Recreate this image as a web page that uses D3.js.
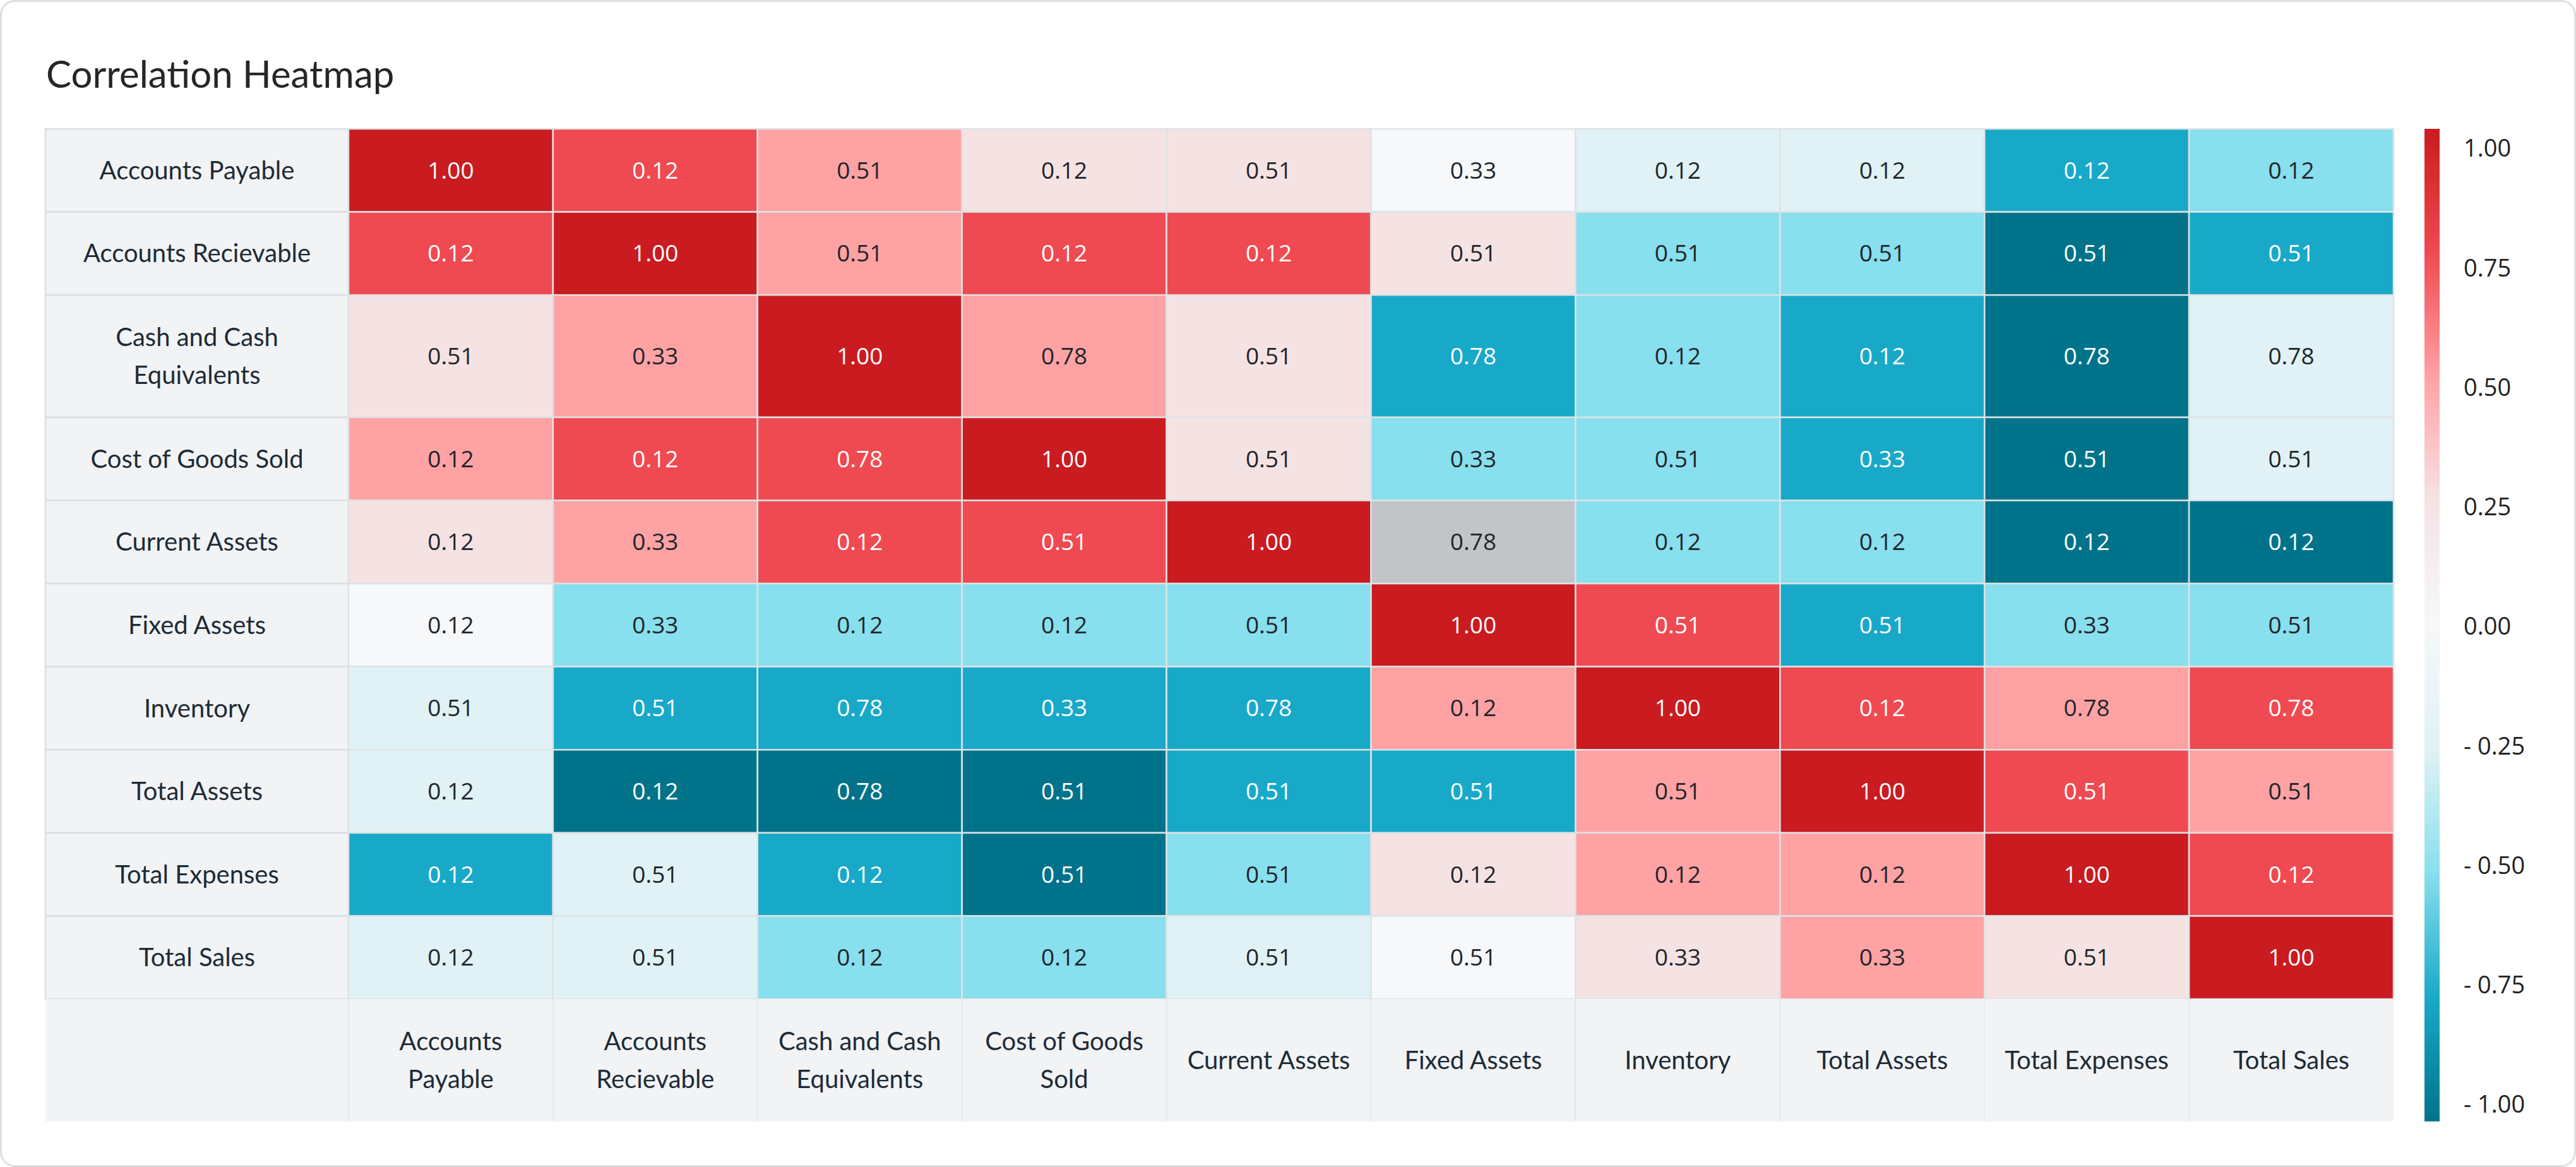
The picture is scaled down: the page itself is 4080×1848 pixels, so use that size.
<!DOCTYPE html>
<html>
<head>
<meta charset="utf-8">
<script src="https://cdn.jsdelivr.net/npm/d3@7"></script>
<style>
  body { margin: 0; background: #fff; }
</style>
</head>
<body>
<div id="chart"></div>
<script>
// Row / column categories (same order both ways)
const rowNames = ["Accounts Payable", "Accounts Recievable", "Cash and Cash Equivalents", "Cost of Goods Sold",
  "Current Assets", "Fixed Assets", "Inventory", "Total Assets", "Total Expenses", "Total Sales"];
const colNames = rowNames;

// how the labels wrap in the picture
const rowLines = [["Accounts Payable"], ["Accounts Recievable"], ["Cash and Cash", "Equivalents"], ["Cost of Goods Sold"],
  ["Current Assets"], ["Fixed Assets"], ["Inventory"], ["Total Assets"], ["Total Expenses"], ["Total Sales"]];
const colLines = [["Accounts", "Payable"], ["Accounts", "Recievable"], ["Cash and Cash", "Equivalents"], ["Cost of Goods", "Sold"],
  ["Current Assets"], ["Fixed Assets"], ["Inventory"], ["Total Assets"], ["Total Expenses"], ["Total Sales"]];

// text printed in each cell
const cellLabels = [
  ["1.00", "0.12", "0.51", "0.12", "0.51", "0.33", "0.12", "0.12", "0.12", "0.12"],
  ["0.12", "1.00", "0.51", "0.12", "0.12", "0.51", "0.51", "0.51", "0.51", "0.51"],
  ["0.51", "0.33", "1.00", "0.78", "0.51", "0.78", "0.12", "0.12", "0.78", "0.78"],
  ["0.12", "0.12", "0.78", "1.00", "0.51", "0.33", "0.51", "0.33", "0.51", "0.51"],
  ["0.12", "0.33", "0.12", "0.51", "1.00", "0.78", "0.12", "0.12", "0.12", "0.12"],
  ["0.12", "0.33", "0.12", "0.12", "0.51", "1.00", "0.51", "0.51", "0.33", "0.51"],
  ["0.51", "0.51", "0.78", "0.33", "0.78", "0.12", "1.00", "0.12", "0.78", "0.78"],
  ["0.12", "0.12", "0.78", "0.51", "0.51", "0.51", "0.51", "1.00", "0.51", "0.51"],
  ["0.12", "0.51", "0.12", "0.51", "0.51", "0.12", "0.12", "0.12", "1.00", "0.12"],
  ["0.12", "0.51", "0.12", "0.12", "0.51", "0.51", "0.33", "0.33", "0.51", "1.00"]
];

// value the cell colour stands for, null = no colour
const cellValues = [
  [1.00, 0.75, 0.50, 0.25, 0.25, 0.00, -0.25, -0.25, -0.75, -0.50],
  [0.75, 1.00, 0.50, 0.75, 0.75, 0.25, -0.50, -0.50, -1.00, -0.75],
  [0.25, 0.50, 1.00, 0.50, 0.25, -0.75, -0.50, -0.75, -1.00, -0.25],
  [0.50, 0.75, 0.75, 1.00, 0.25, -0.50, -0.50, -0.75, -1.00, -0.25],
  [0.25, 0.50, 0.75, 0.75, 1.00, null, -0.50, -0.50, -1.00, -1.00],
  [0.00, -0.50, -0.50, -0.50, -0.50, 1.00, 0.75, -0.75, -0.50, -0.50],
  [-0.25, -0.75, -0.75, -0.75, -0.75, 0.50, 1.00, 0.75, 0.50, 0.75],
  [-0.25, -1.00, -1.00, -1.00, -0.75, -0.75, 0.50, 1.00, 0.75, 0.50],
  [-0.75, -0.25, -0.75, -1.00, -0.50, 0.25, 0.50, 0.50, 1.00, 0.75],
  [-0.25, -0.25, -0.50, -0.50, -0.25, 0.00, 0.25, 0.50, 0.25, 1.00]
];

const legendTicks = [1, 0.75, 0.5, 0.25, 0, -0.25, -0.5, -0.75, -1];
const colorStops = [-1, -0.75, -0.5, -0.25, 0, 0.25, 0.5, 0.75, 1];
const colorRange = ["#00738a", "#19a9c8", "#88dfed", "#e0f2f5", "#f6f8fa", "#f5e3e4", "#ffa2a4", "#ef4a51", "#c91b20"];

const W = 4080, H = 1848;
const gridLeft = 72, labelW = 480, gridTop = 204, gridRight = 3791;
const rowH = 131.6, tallH = 193.7;

const svg = d3.select("#chart").append("svg")
  .attr("width", W)
  .attr("height", H);

// card
svg.append("rect")
  .attr("x", 1.5).attr("y", 1.5)
  .attr("width", W - 3).attr("height", H - 3)
  .attr("rx", 22)
  .attr("fill", "#fff")
  .attr("stroke", "#dedfe1")
  .attr("stroke-width", 3);

svg.append("text")
  .attr("x", 73)
  .attr("y", 139)
  .attr("font-family", "Lato, sans-serif")
  .attr("font-size", 60)
  .attr("fill", "#262626")
  .text("Correlation Heatmap");

// scales
const heights = rowLines.map(l => l.length > 1 ? tallH : rowH);
const tops = heights.map((h, i) => gridTop + d3.sum(heights.slice(0, i)));
const y = d3.scaleOrdinal().domain(rowNames).range(tops);
const yH = d3.scaleOrdinal().domain(rowNames).range(heights);
const x = d3.scaleBand().domain(colNames).range([gridLeft + labelW, gridRight]);
const headerTop = gridTop + d3.sum(heights);
const headerH = tallH;

const color = d3.scaleLinear().domain(colorStops).range(colorRange).interpolate(d3.interpolateRgb);

const cells = [];
rowNames.forEach((r, i) => colNames.forEach((c, j) => {
  cells.push({ row: r, col: c, value: cellValues[i][j], label: cellLabels[i][j] });
}));

// row label column
const rowG = svg.append("g").selectAll("g")
  .data(rowNames)
  .enter().append("g");
rowG.append("rect")
  .attr("x", gridLeft)
  .attr("y", d => y(d))
  .attr("width", labelW)
  .attr("height", d => yH(d))
  .attr("fill", "#f1f3f5")
  .attr("stroke", "#dcdfe2")
  .attr("stroke-width", 2.5);
rowG.each(function(d, i) {
  const lines = rowLines[i];
  const cy = y(d) + yH(d) / 2;
  d3.select(this).selectAll("text")
    .data(lines)
    .enter().append("text")
    .attr("x", gridLeft + labelW / 2)
    .attr("y", (t, k) => cy + (k - (lines.length - 1) / 2) * 60)
    .attr("dy", "0.35em")
    .attr("text-anchor", "middle")
    .attr("font-family", "Lato, sans-serif")
    .attr("font-size", 40)
    .attr("fill", "#1d2b36")
    .text(t => t);
});

// cells
const cellG = svg.append("g").selectAll("g")
  .data(cells)
  .enter().append("g");
cellG.append("rect")
  .attr("x", d => x(d.col))
  .attr("y", d => y(d.row))
  .attr("width", x.bandwidth())
  .attr("height", d => yH(d.row))
  .attr("fill", d => d.value === null ? "#c1c5c8" : color(d.value))
  .attr("stroke", "#dfe2e5")
  .attr("stroke-width", 2.5);
cellG.append("text")
  .attr("x", d => x(d.col) + x.bandwidth() / 2)
  .attr("y", d => y(d.row) + yH(d.row) / 2)
  .attr("dy", "0.35em")
  .attr("text-anchor", "middle")
  .attr("font-family", "'Open Sans', sans-serif")
  .attr("font-size", 37)
  .attr("fill", d => d.value !== null && Math.abs(d.value) >= 0.7 ? "#ffffff" : "#212529")
  .text(d => d.label);

// bottom header row
svg.append("rect")
  .attr("x", gridLeft)
  .attr("y", headerTop)
  .attr("width", gridRight - gridLeft)
  .attr("height", headerH)
  .attr("fill", "#f1f3f5");
const colG = svg.append("g").selectAll("g")
  .data(colNames)
  .enter().append("g");
colG.append("line")
  .attr("x1", d => x(d)).attr("x2", d => x(d))
  .attr("y1", headerTop).attr("y2", headerTop + headerH)
  .attr("stroke", "#e3e5e8")
  .attr("stroke-width", 1.5);
colG.each(function(d, i) {
  const lines = colLines[i];
  const cy = headerTop + headerH / 2;
  d3.select(this).selectAll("text")
    .data(lines)
    .enter().append("text")
    .attr("x", x(d) + x.bandwidth() / 2)
    .attr("y", (t, k) => cy + (k - (lines.length - 1) / 2) * 60)
    .attr("dy", "0.35em")
    .attr("text-anchor", "middle")
    .attr("font-family", "Lato, sans-serif")
    .attr("font-size", 40)
    .attr("fill", "#1d2b36")
    .text(t => t);
});

// colour bar legend
const barX = 3840, barW = 24, barTop = gridTop, barBottom = headerTop + headerH;
const defs = svg.append("defs");
const grad = defs.append("linearGradient")
  .attr("id", "legendGrad")
  .attr("x1", 0).attr("y1", 1).attr("x2", 0).attr("y2", 0);
grad.selectAll("stop")
  .data(colorStops)
  .enter().append("stop")
  .attr("offset", d => (d + 1) / 2)
  .attr("stop-color", d => color(d));
svg.append("rect")
  .attr("x", barX)
  .attr("y", barTop)
  .attr("width", barW)
  .attr("height", barBottom - barTop)
  .attr("fill", "url(#legendGrad)");

const legendY = d3.scaleLinear().domain([1, -1]).range([235, 1749]);
const fmt = d3.format(".2f");
svg.append("g").selectAll("text")
  .data(legendTicks)
  .enter().append("text")
  .attr("x", 3902)
  .attr("y", d => legendY(d))
  .attr("dy", "0.35em")
  .attr("font-family", "'Open Sans', sans-serif")
  .attr("font-size", 38)
  .attr("fill", "#222")
  .text(d => d < 0 ? "- " + fmt(-d) : fmt(d));
</script>
</body>
</html>
